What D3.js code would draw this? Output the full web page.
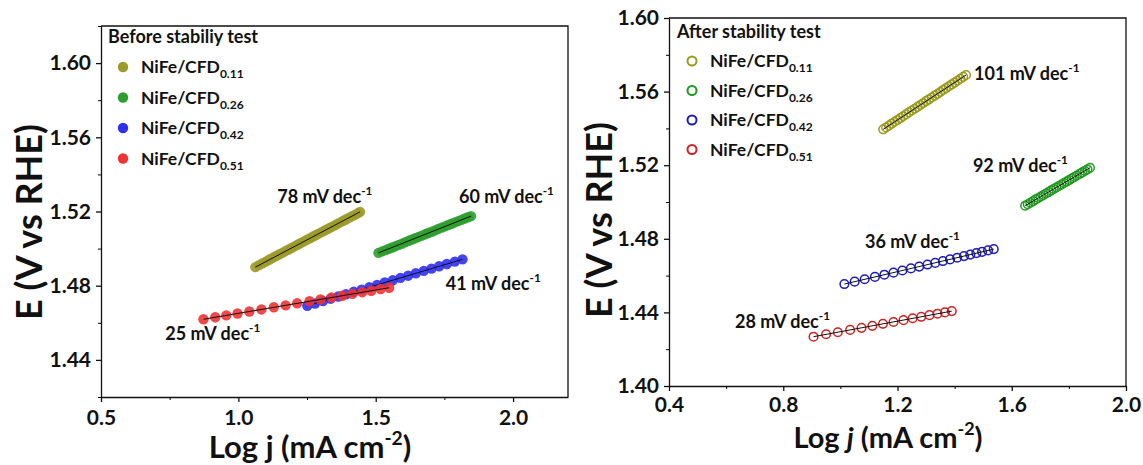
<!DOCTYPE html>
<html>
<head>
<meta charset="utf-8">
<script src="https://cdn.jsdelivr.net/npm/d3@7"></script>
<style>
  body { margin: 0; background: #fff; }
  svg { font-family: Lato, "Open Sans", sans-serif; font-weight: 700; }
</style>
</head>
<body>
<div id="chart"></div>
<script>
// sample names (subscripts)
const samples = ["0.11", "0.26", "0.42", "0.51"];

// Before stability test (log j, E)
const before011X = [1.062,1.075,1.088,1.100,1.112,1.124,1.136,1.148,1.160,1.171,1.183,1.194,1.206,1.217,1.228,1.239,1.250,1.261,1.272,1.283,1.294,1.305,1.316,1.327,1.338,1.349,1.360,1.371,1.382,1.393,1.404,1.414,1.424,1.434,1.443];
const before011Y = [1.4900,1.4911,1.4921,1.4930,1.4940,1.4949,1.4959,1.4968,1.4977,1.4986,1.4995,1.5004,1.5013,1.5022,1.5031,1.5039,1.5048,1.5056,1.5065,1.5073,1.5082,1.5090,1.5099,1.5107,1.5116,1.5124,1.5133,1.5141,1.5150,1.5158,1.5167,1.5175,1.5182,1.5190,1.5198];
const before026X = [1.510,1.523,1.536,1.548,1.560,1.572,1.584,1.596,1.608,1.620,1.632,1.644,1.656,1.668,1.680,1.692,1.704,1.716,1.728,1.740,1.752,1.764,1.776,1.788,1.800,1.812,1.824,1.836,1.847];
const before026Y = [1.4977,1.4985,1.4992,1.4999,1.5006,1.5013,1.5020,1.5027,1.5035,1.5042,1.5049,1.5056,1.5063,1.5070,1.5077,1.5084,1.5091,1.5098,1.5106,1.5113,1.5120,1.5127,1.5134,1.5141,1.5148,1.5155,1.5162,1.5169,1.5175];
const before042X = [1.251,1.279,1.308,1.336,1.364,1.392,1.420,1.449,1.477,1.505,1.533,1.562,1.590,1.618,1.646,1.675,1.703,1.731,1.759,1.788,1.816];
const before042Y = [1.4692,1.4704,1.4717,1.4730,1.4742,1.4754,1.4767,1.4779,1.4792,1.4804,1.4817,1.4829,1.4842,1.4854,1.4867,1.4880,1.4892,1.4905,1.4917,1.4930,1.4942];
const before051X = [0.873,0.916,0.956,0.997,1.040,1.084,1.129,1.172,1.214,1.259,1.299,1.339,1.378,1.415,1.451,1.484,1.518,1.549];
const before051Y = [1.4619,1.4630,1.4640,1.4650,1.4661,1.4672,1.4684,1.4694,1.4705,1.4716,1.4726,1.4736,1.4746,1.4756,1.4765,1.4773,1.4782,1.4789];
const beforeSlopes = ["78", "60", "41", "25"];

// After stability test (log j, E)
const after011X = [1.150,1.160,1.170,1.180,1.190,1.200,1.210,1.220,1.230,1.240,1.250,1.260,1.270,1.280,1.290,1.300,1.310,1.320,1.330,1.340,1.350,1.360,1.370,1.380,1.390,1.400,1.410,1.420,1.430,1.440];
const after011Y = [1.5395,1.5405,1.5415,1.5426,1.5436,1.5446,1.5456,1.5466,1.5476,1.5487,1.5497,1.5507,1.5517,1.5527,1.5537,1.5548,1.5558,1.5568,1.5578,1.5588,1.5598,1.5609,1.5619,1.5629,1.5639,1.5649,1.5659,1.5670,1.5680,1.5690];
const after026X = [1.647,1.656,1.665,1.675,1.684,1.693,1.702,1.711,1.720,1.729,1.738,1.747,1.756,1.765,1.774,1.783,1.792,1.801,1.810,1.819,1.828,1.838,1.847,1.856,1.865,1.874];
const after026Y = [1.4980,1.4988,1.4996,1.5005,1.5014,1.5022,1.5030,1.5038,1.5046,1.5054,1.5063,1.5071,1.5079,1.5087,1.5095,1.5103,1.5111,1.5119,1.5128,1.5136,1.5144,1.5153,1.5161,1.5169,1.5177,1.5186];
const after042X = [1.014,1.050,1.085,1.121,1.154,1.186,1.217,1.247,1.276,1.305,1.332,1.359,1.384,1.409,1.433,1.455,1.476,1.496,1.517,1.537];
const after042Y = [1.4554,1.4567,1.4580,1.4593,1.4605,1.4616,1.4628,1.4639,1.4649,1.4660,1.4669,1.4679,1.4688,1.4697,1.4706,1.4714,1.4722,1.4729,1.4737,1.4744];
const after051X = [0.906,0.950,0.991,1.034,1.074,1.112,1.149,1.186,1.221,1.253,1.283,1.312,1.340,1.366,1.390];
const after051Y = [1.4268,1.4281,1.4292,1.4305,1.4316,1.4327,1.4338,1.4348,1.4358,1.4368,1.4376,1.4385,1.4393,1.4400,1.4407];
const afterSlopes = ["101", "92", "36", "28"];

// tick labels
const leftXTicks = [0.5, 1.0, 1.5, 2.0];
const leftYTicks = [1.44, 1.48, 1.52, 1.56, 1.60];
const rightXTicks = [0.4, 0.8, 1.2, 1.6, 2.0];
const rightYTicks = [1.40, 1.44, 1.48, 1.52, 1.56, 1.60];

const W = 1143, H = 465;
const svg = d3.select("#chart").append("svg").attr("width", W).attr("height", H);

const zip = (xs, ys) => xs.map((x, i) => [x, ys[i]]);

function panel(cfg) {
  const x = d3.scaleLinear().domain(cfg.xDomain).range([cfg.left, cfg.right]);
  const y = d3.scaleLinear().domain(cfg.yDomain).range([cfg.bottom, cfg.top]);
  const g = svg.append("g");

  // minor ticks
  g.append("g").attr("transform", `translate(0,${cfg.bottom})`)
    .call(d3.axisBottom(x).tickValues(cfg.xMinor).tickSize(3).tickFormat("").tickSizeOuter(0))
    .call(a => a.select(".domain").remove());
  g.append("g").attr("transform", `translate(${cfg.left},0)`)
    .call(d3.axisLeft(y).tickValues(cfg.yMinor).tickSize(3).tickFormat("").tickSizeOuter(0))
    .call(a => a.select(".domain").remove());

  const xa = g.append("g").attr("transform", `translate(0,${cfg.bottom})`)
    .call(d3.axisBottom(x).tickValues(cfg.xTicks).tickSize(5).tickSizeOuter(0).tickPadding(cfg.xPad).tickFormat(d3.format(".1f")));
  const ya = g.append("g").attr("transform", `translate(${cfg.left},0)`)
    .call(d3.axisLeft(y).tickValues(cfg.yTicks).tickSize(5).tickSizeOuter(0).tickPadding(5).tickFormat(d3.format(".2f")));
  [xa, ya].forEach(a => {
    a.selectAll("text").attr("font-size", 21).attr("font-family", "Lato, sans-serif").attr("font-weight", 700).attr("fill", "#111");
    a.selectAll("line,path").attr("stroke", "#111").attr("stroke-width", 1.3);
  });
  // frame top / right
  g.append("path")
    .attr("d", `M${cfg.left},${cfg.top}H${cfg.right}V${cfg.bottom}`)
    .attr("fill", "none").attr("stroke", "#111").attr("stroke-width", 1.3);

  // axis titles
  g.append("text")
    .attr("transform", `translate(${cfg.yTitleX},${cfg.yTitleY}) rotate(-90)`)
    .attr("text-anchor", "middle").attr("font-size", 36).attr("fill", "#111")
    .text("E (V vs RHE)");
  const xt = g.append("text").attr("x", cfg.xTitleX).attr("y", cfg.xTitleY)
    .attr("text-anchor", "middle").attr("font-size", cfg.xTitleSize).attr("fill", "#111");
  xt.append("tspan").text("Log ");
  xt.append("tspan").text("j").attr("font-style", cfg.italicJ ? "italic" : "normal");
  xt.append("tspan").text(" (mA cm");
  xt.append("tspan").text("-2").attr("font-size", cfg.xTitleSize * 0.62).attr("dy", -13);
  xt.append("tspan").text(")").attr("dy", 13);

  // series
  cfg.series.forEach(s => {
    const pts = zip(s.xs, s.ys);
    const c = g.append("g");
    c.selectAll("circle").data(pts).join("circle")
      .attr("cx", d => x(d[0])).attr("cy", d => y(d[1]))
      .attr("r", cfg.filled ? 5.2 : 4.3)
      .attr("fill", cfg.filled ? s.color : "none")
      .attr("fill-opacity", cfg.filled ? 0.9 : 1)
      .attr("stroke", cfg.filled ? "none" : s.color)
      .attr("stroke-width", 1.5);
    // linear fit
    const fit = d3.line().x(d => x(d[0])).y(d => y(d[1]));
    c.append("path").attr("d", fit([pts[0], pts[pts.length - 1]]))
      .attr("stroke", "#111").attr("stroke-width", 1).attr("fill", "none");
    // slope label
    const t = g.append("text").attr("x", x(s.lx)).attr("y", y(s.ly))
      .attr("font-size", cfg.labelSize).attr("fill", "#111");
    t.append("tspan").text(s.slope + " mV dec");
    t.append("tspan").text("-1").attr("font-size", cfg.labelSize * 0.65).attr("dy", -8);
  });

  // legend
  const lg = g.append("g");
  lg.append("text").attr("x", cfg.legX - 15).attr("y", cfg.legY - cfg.legStep + 6)
    .attr("font-size", 18).attr("fill", "#111").text(cfg.legTitle);
  cfg.series.forEach((s, i) => {
    const yy = cfg.legY + i * cfg.legStep;
    lg.append("circle").attr("cx", cfg.legX).attr("cy", yy).attr("r", cfg.filled ? 5.2 : 4.5)
      .attr("fill", cfg.filled ? s.color : "none")
      .attr("stroke", cfg.filled ? "none" : s.color).attr("stroke-width", 2);
    const t = lg.append("text").attr("x", cfg.legX + 18).attr("y", yy + 6)
      .attr("font-size", 17.5).attr("fill", "#111");
    t.append("tspan").text("NiFe/CFD");
    t.append("tspan").text(samples[i]).attr("font-size", 12).attr("dy", 5);
  });
}

panel({
  xDomain: [0.5, 2.2], yDomain: [1.42, 1.62],
  left: 101, right: 568, top: 26, bottom: 397,
  xTicks: leftXTicks, yTicks: leftYTicks, xPad: 8,
  xMinor: [0.75, 1.25, 1.75], yMinor: [1.42, 1.46, 1.50, 1.54, 1.58, 1.62],
  yTitleX: 42, yTitleY: 222, xTitleX: 310, xTitleY: 458, xTitleSize: 31, italicJ: false,
  filled: true, labelSize: 18,
  legTitle: "Before stabiliy test", legX: 123, legY: 67, legStep: 30.5,
  series: [
    { xs: before011X, ys: before011Y, color: "#9c9a2a", slope: beforeSlopes[0], lx: 1.142, ly: 1.5245 },
    { xs: before026X, ys: before026Y, color: "#2e9e2e", slope: beforeSlopes[1], lx: 1.803, ly: 1.5245 },
    { xs: before042X, ys: before042Y, color: "#2f2ff0", slope: beforeSlopes[2], lx: 1.755, ly: 1.4776 },
    { xs: before051X, ys: before051Y, color: "#ee3333", slope: beforeSlopes[3], lx: 0.734, ly: 1.4507 }
  ]
});

panel({
  xDomain: [0.4, 2.0], yDomain: [1.40, 1.60],
  left: 669, right: 1126, top: 18, bottom: 386,
  xTicks: rightXTicks, yTicks: rightYTicks, xPad: 6,
  xMinor: [0.6, 1.0, 1.4, 1.8], yMinor: [1.42, 1.46, 1.50, 1.54, 1.58],
  yTitleX: 612, yTitleY: 220, xTitleX: 888, xTitleY: 448, xTitleSize: 29, italicJ: true,
  filled: false, labelSize: 18,
  legTitle: "After stability test", legX: 692, legY: 61, legStep: 29.5,
  series: [
    { xs: after011X, ys: after011Y, color: "#9a9a1e", slope: afterSlopes[0], lx: 1.468, ly: 1.5663 },
    { xs: after026X, ys: after026Y, color: "#1f991f", slope: afterSlopes[1], lx: 1.464, ly: 1.5163 },
    { xs: after042X, ys: after042Y, color: "#1c1cb8", slope: afterSlopes[2], lx: 1.086, ly: 1.4750 },
    { xs: after051X, ys: after051Y, color: "#cc2222", slope: afterSlopes[3], lx: 0.631, ly: 1.4315 }
  ]
});
</script>
</body>
</html>
